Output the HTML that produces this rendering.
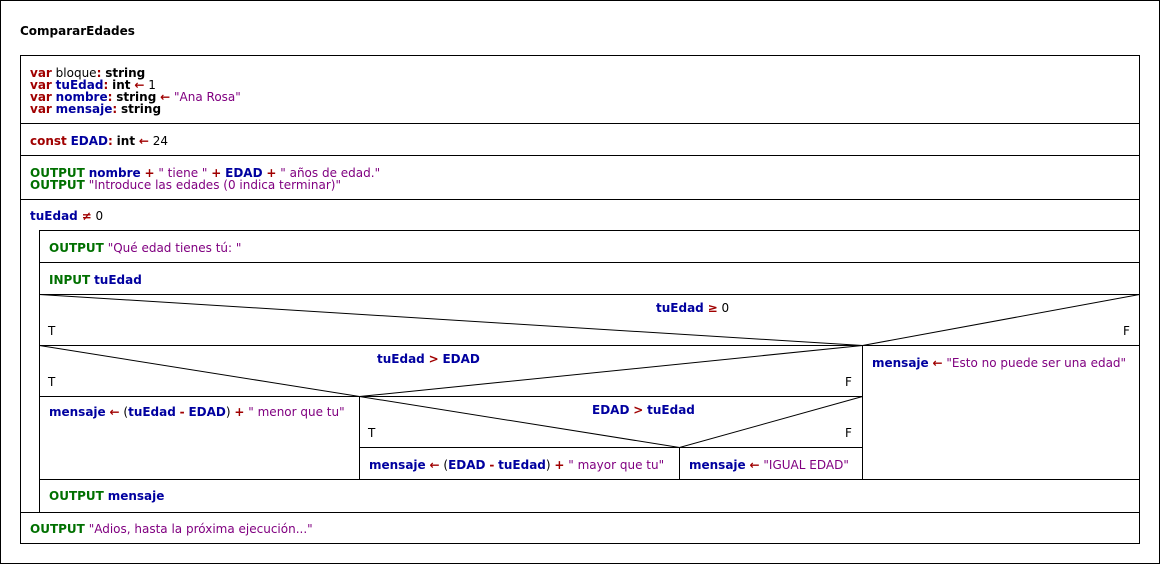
<!DOCTYPE html>
<html><head><meta charset="utf-8"><style>
html,body{margin:0;padding:0;background:#fff;}
svg{display:block;}
text{font-family:"DejaVu Sans","Liberation Sans",sans-serif;font-size:12px;fill:#000;}
.b{font-weight:bold;}
.r{fill:#a00000;font-weight:bold;}
.u{fill:#00009f;font-weight:bold;}
.g{fill:#007000;font-weight:bold;}
.p{fill:#800080;}
.k{fill:#000;font-weight:bold;}
</style></head><body>
<svg width="1161" height="565" viewBox="0 0 1161 565" xmlns="http://www.w3.org/2000/svg">
<g fill="none" stroke="#000" stroke-width="1" shape-rendering="crispEdges">
<rect x="0.5" y="0.5" width="1159" height="563"/>
<rect x="20.5" y="55.5" width="1119" height="488"/>
<line x1="20" y1="123.5" x2="1140" y2="123.5"/>
<line x1="20" y1="155.5" x2="1140" y2="155.5"/>
<line x1="20" y1="199.5" x2="1140" y2="199.5"/>
<line x1="39" y1="230.5" x2="1140" y2="230.5"/>
<line x1="39.5" y1="230" x2="39.5" y2="512"/>
<line x1="39" y1="262.5" x2="1140" y2="262.5"/>
<line x1="39" y1="294.5" x2="1140" y2="294.5"/>
<line x1="39" y1="345.5" x2="1140" y2="345.5"/>
<line x1="862.5" y1="345" x2="862.5" y2="479"/>
<line x1="39" y1="396.5" x2="862" y2="396.5"/>
<line x1="359.5" y1="396" x2="359.5" y2="479"/>
<line x1="359" y1="447.5" x2="862" y2="447.5"/>
<line x1="679.5" y1="447" x2="679.5" y2="479"/>
<line x1="39" y1="479.5" x2="1140" y2="479.5"/>
<line x1="20" y1="512.5" x2="1140" y2="512.5"/>
</g>
<g stroke="#000" stroke-width="1" fill="none">
<polyline points="39.5,294.5 862.5,345.5 1139.5,294.5"/>
<polyline points="39.5,345.5 359.5,396.5 862.5,345.5"/>
<polyline points="359.5,396.5 679.5,447.5 862.5,396.5"/>
</g>

<text x="20" y="35" class="b">CompararEdades</text>

<text x="30" y="77"><tspan class="r">var</tspan> bloque<tspan class="r">:</tspan> <tspan class="k">string</tspan></text>
<text x="30" y="89"><tspan class="r">var</tspan> <tspan class="u">tuEdad</tspan><tspan class="r">:</tspan> <tspan class="k">int</tspan> <tspan class="r">←</tspan> 1</text>
<text x="30" y="101"><tspan class="r">var</tspan> <tspan class="u">nombre</tspan><tspan class="r">:</tspan> <tspan class="k">string</tspan> <tspan class="r">←</tspan> <tspan class="p">"Ana Rosa"</tspan></text>
<text x="30" y="113"><tspan class="r">var</tspan> <tspan class="u">mensaje</tspan><tspan class="r">:</tspan> <tspan class="k">string</tspan></text>

<text x="30" y="145"><tspan class="r">const</tspan> <tspan class="u">EDAD</tspan><tspan class="r">:</tspan> <tspan class="k">int</tspan> <tspan class="r">←</tspan> 24</text>

<text x="30" y="177"><tspan class="g">OUTPUT</tspan> <tspan class="u">nombre</tspan> <tspan class="r">+</tspan> <tspan class="p">" tiene "</tspan> <tspan class="r">+</tspan> <tspan class="u">EDAD</tspan> <tspan class="r">+</tspan> <tspan class="p">" años de edad."</tspan></text>
<text x="30" y="189"><tspan class="g">OUTPUT</tspan> <tspan class="p">"Introduce las edades (0 indica terminar)"</tspan></text>

<text x="30" y="220"><tspan class="u">tuEdad</tspan> <tspan class="r">≠</tspan> 0</text>

<text x="49" y="252"><tspan class="g">OUTPUT</tspan> <tspan class="p">"Qué edad tienes tú: "</tspan></text>
<text x="49" y="284"><tspan class="g">INPUT</tspan> <tspan class="u">tuEdad</tspan></text>

<text x="656" y="312"><tspan class="u">tuEdad</tspan> <tspan class="r">≥</tspan> 0</text>
<text x="48" y="335">T</text>
<text x="1123" y="335">F</text>

<text x="377" y="363"><tspan class="u">tuEdad</tspan> <tspan class="r">&gt;</tspan> <tspan class="u">EDAD</tspan></text>
<text x="48" y="386">T</text>
<text x="845" y="386">F</text>

<text x="872" y="367"><tspan class="u">mensaje</tspan> <tspan class="r">←</tspan> <tspan class="p">"Esto no puede ser una edad"</tspan></text>

<text x="49" y="416"><tspan class="u">mensaje</tspan> <tspan class="r">←</tspan> (<tspan class="u">tuEdad</tspan> <tspan class="r">-</tspan> <tspan class="u">EDAD</tspan>) <tspan class="r">+</tspan> <tspan class="p">" menor que tu"</tspan></text>

<text x="592" y="414"><tspan class="u">EDAD</tspan> <tspan class="r">&gt;</tspan> <tspan class="u">tuEdad</tspan></text>
<text x="368" y="437">T</text>
<text x="845" y="437">F</text>

<text x="369" y="469"><tspan class="u">mensaje</tspan> <tspan class="r">←</tspan> (<tspan class="u">EDAD</tspan> <tspan class="r">-</tspan> <tspan class="u">tuEdad</tspan>) <tspan class="r">+</tspan> <tspan class="p">" mayor que tu"</tspan></text>
<text x="689" y="469"><tspan class="u">mensaje</tspan> <tspan class="r">←</tspan> <tspan class="p">"IGUAL EDAD"</tspan></text>

<text x="49" y="500"><tspan class="g">OUTPUT</tspan> <tspan class="u">mensaje</tspan></text>
<text x="30" y="533"><tspan class="g">OUTPUT</tspan> <tspan class="p">"Adios, hasta la próxima ejecución..."</tspan></text>
</svg>
</body></html>
